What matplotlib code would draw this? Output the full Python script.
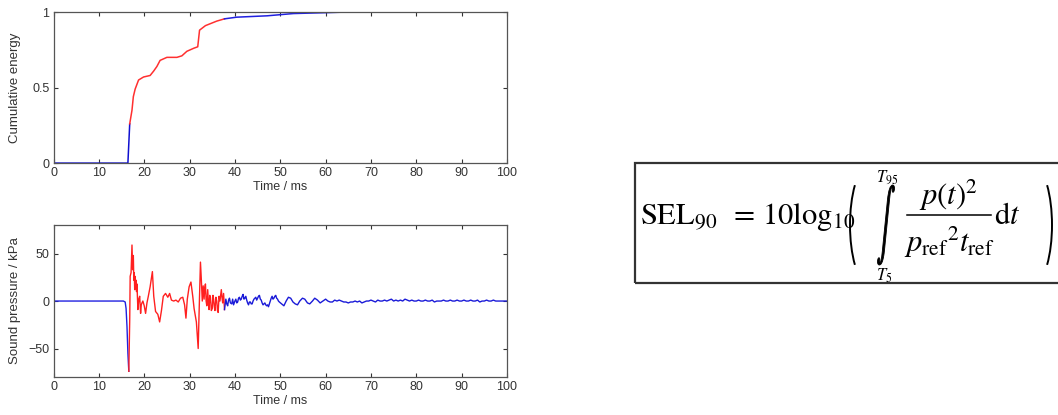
import numpy as np
import matplotlib
matplotlib.use('Agg')
import matplotlib.pyplot as plt
from matplotlib.patches import Rectangle, Arc, PathPatch
from matplotlib.lines import Line2D
from matplotlib.transforms import IdentityTransform, Affine2D
from matplotlib.textpath import TextPath
from matplotlib.font_manager import FontProperties

plt.rcParams['font.family'] = ['Liberation Sans', 'DejaVu Sans']
plt.rcParams['mathtext.fontset'] = 'stix'

# ---- data ----
# analysis window (start / end of the 90 % energy interval), ms
t5 = 16.6
t95 = 37.7

# cumulative (normalised) energy
t_energy = [0.0, 16.4, 16.8, 17.3, 17.6, 18.0, 18.75, 19.85, 21.3, 22.1, 22.8,
            23.5, 25.0, 27.2, 28.3, 29.4, 30.9, 31.8, 32.2, 33.5, 36.0, 37.7,
            40.4, 47.1, 52.9, 60.3, 64.7]
energy = [0.0, 0.0, 0.26, 0.35, 0.44, 0.49, 0.55, 0.57, 0.58, 0.61, 0.64,
          0.68, 0.70, 0.70, 0.71, 0.74, 0.76, 0.77, 0.88, 0.91, 0.94, 0.955,
          0.966, 0.975, 0.99, 0.996, 1.0]

# sound pressure trace, kPa
t_press = [0.0, 15.4, 15.8, 16.0, 16.2, 16.4, 16.6,
           16.8, 16.9, 17.1, 17.3, 17.45, 17.6, 17.7, 17.8, 17.9, 18.0, 18.1,
           18.2, 18.3, 18.4, 18.6, 18.8, 19.0, 19.2, 19.35, 19.5, 19.7, 20.0,
           20.3, 20.6, 20.9, 21.3, 21.8, 22.1, 22.5, 23.0, 23.4, 23.8, 24.2,
           24.7, 25.2, 25.6, 26.0, 26.5, 27.0, 27.5, 28.0, 28.5, 28.9, 29.2,
           29.5, 29.9, 30.3, 30.7, 31.0, 31.5, 31.9, 32.1, 32.4, 32.6, 32.8,
           33.0, 33.2, 33.35, 33.5, 33.65, 33.8, 34.0, 34.15, 34.3, 34.45,
           34.6, 34.8, 35.0, 35.15, 35.3, 35.45, 35.6, 35.8, 36.0, 36.15,
           36.3, 36.5, 36.7, 37.0, 37.15, 37.3, 37.5, 37.7,
           38.0, 38.2, 38.4, 38.6, 38.8, 39.0, 39.3, 39.5, 39.7, 40.0, 40.2,
           40.4, 40.6, 40.8, 41.0, 41.2, 41.4, 41.6, 41.8, 42.0, 42.2, 42.4,
           42.6, 42.8, 43.0, 43.2, 43.4, 43.6, 43.8, 44.0, 44.2, 44.4, 44.6,
           44.8, 45.0, 45.2, 45.4, 45.6, 45.8, 46.0, 46.2, 46.4, 46.6, 46.8,
           47.0, 47.2, 47.4, 47.6, 47.8, 48.0, 48.2, 48.4, 48.6, 48.8, 49.0,
           49.2, 49.4, 49.6, 49.8, 50.3, 50.8, 51.3, 51.8, 52.3, 52.8, 53.3,
           53.8, 54.3, 54.9, 55.4, 56.0, 56.5, 57.1, 57.6, 58.2, 58.8, 59.4,
           60.0, 60.5, 61.0, 61.5, 62.0, 62.5, 63.0, 63.5, 64.0, 64.5, 65.0,
           65.5, 66.0, 66.5, 67.0, 67.5, 68.0, 68.5, 69.0, 69.5, 70.0, 70.5,
           71.0, 71.5, 72.0, 72.5, 73.0, 73.5, 74.0, 74.5, 75.0, 75.5, 76.0,
           76.5, 77.0, 77.5, 78.0, 78.5, 79.0, 79.5, 80.0, 80.5, 81.0, 81.5,
           82.0, 82.5, 83.0, 83.5, 84.0, 84.5, 85.0, 85.5, 86.0, 86.5, 87.0,
           87.5, 88.0, 88.5, 89.0, 89.5, 90.0, 90.5, 91.0, 91.5, 92.0, 92.5,
           93.0, 93.5, 94.0, 94.5, 95.0, 95.5, 96.0, 96.5, 97.0, 97.5, 98.0,
           98.5, 99.0, 99.5, 100.0]
pressure = [0, 0, -1, -8, -27, -55, -74,
            -20, 26, 30, 59, 33, 48, 22, 30, 12, 26, 14,
            22, 10, 18, -9, 2, 5, -13, -4, -2, 0, -5,
            -13, -2, 5, 15, 31, 5, -11, -14, -22, -10, 5,
            8, 4, 8, 1, 0, 1, -1, 3, 4, -4, -18,
            2, 15, 20, 5, -8, -22, -50, -12, 41, 22, 0,
            16, 2, 14, 18, 0, -5, 12, -2, -9, 6,
            4, -10, -8, 6, 2, -6, -10, 4, 0, -10,
            -12, 5, 0, 12, 4, -2, 8, -9,
            2, -3, -5, 1, 3, -2, -3, 2, -4, 0, 2,
            -2, -1, 3, 4, 1, 2, 5, 7, 2, 3, 5,
            1, -2, -4, -1, -1, -3, -3, 0, 2, 3, 4,
            1, 3, 5, 6, 2, 1, -2, -4, -3, -2, -4,
            -5, -4, -6, -3, 0, 3, 5, 2, 3, 5, 6,
            3, 2, 0, -1, -3, -5, 0, 4, 3, -1, -3,
            -4, 0, 3, 2, -2, -3, 0, 3, 1, -2, 0,
            2, 0, -1, -1, 1, 0, 1, 0, -1, -1, -2,
            -1, -1, 0, -1, 0, -2, -1, 0, 0, 1, 0,
            -1, 1, 0, 0, 1, 0, 1, 2, 0, 1, 0,
            1, 0, 2, 1, 0, 1, 0, 0, 1, 0, 0,
            1, 0, 0, 1, -1, 0, 0, 0, 1, 0, 0,
            1, 0, 0, 1, 0, 0, 1, 0, 0, 1, 0,
            0, 1, -1, 0, 0, 1, 0, 0, 1, 0, 0,
            0, 0, 0, 0]

x_ticks = list(range(0, 101, 10))
energy_ticks = [0, 0.5, 1]
energy_ticklabels = ['0', '0.5', '1']
press_ticks = [-50, 0, 50]

W, H = 1058, 415


def split_window(t, y):
    # blue before T5, red inside [T5, T95], blue after T95
    t = np.asarray(t, dtype=float)
    y = np.asarray(y, dtype=float)
    i5 = int(np.searchsorted(t, t5))
    i95 = int(np.searchsorted(t, t95))
    return ((t[:i5 + 1], y[:i5 + 1]),
            (t[i5:i95 + 1], y[i5:i95 + 1]),
            (t[i95:], y[i95:]))


def style_axes(ax):
    ax.set_xlim(0, 100)
    ax.set_xticks(x_ticks)
    ax.tick_params(direction='in', top=True, right=True, length=3,
                   width=0.8, labelsize=9, colors='#333333', pad=3)
    for s in ax.spines.values():
        s.set_color('#555555')
        s.set_linewidth(0.9)
    ax.set_xlabel('Time / ms', fontsize=9, color='#333333', labelpad=1)


def ftext(x, y, s, size=22, **kw):
    # place text by pixel position measured from the top-left corner
    fig.text(x / W, 1 - y / H, s, fontsize=size, va=kw.pop('va', 'baseline'),
             color='black', **kw)


fig = plt.figure(figsize=(W / 100, H / 100), dpi=100)

# ---- cumulative energy ----
ax1 = fig.add_axes([0.0506, 0.607, 0.4286, 0.364])
pre, win, post = split_window(t_energy, energy)
ax1.plot(*pre, color='#1010d0', lw=1.1)
ax1.plot(*win, color='#ff3030', lw=1.1)
ax1.plot(*post, color='#2020e0', lw=1.1)
ax1.set_ylim(0, 1)
ax1.set_yticks(energy_ticks)
ax1.set_yticklabels(energy_ticklabels)
ax1.set_ylabel('Cumulative energy', fontsize=9.5, color='#333333', labelpad=8)
style_axes(ax1)

# ---- pressure trace ----
ax2 = fig.add_axes([0.0506, 0.0916, 0.4286, 0.366])
pre, win, post = split_window(t_press, pressure)
ax2.plot(*pre, color='#2020e0', lw=1.0)
ax2.plot(*win, color='#ff2020', lw=1.0)
ax2.plot(*post, color='#1a1ad8', lw=1.0)
ax2.set_ylim(-80, 80)
ax2.set_yticks(press_ticks)
ax2.set_ylabel('Sound pressure / kPa', fontsize=9.5, color='#333333', labelpad=5)
style_axes(ax2)

# ---- SEL90 definition, set piece by piece ----
fig.patches.append(Rectangle((0.600, 0.318), 0.45, 0.289, transform=fig.transFigure,
                             fill=False, edgecolor='#333333', lw=1.6))
ftext(640, 224, r'$\mathrm{SEL}_{90}$')
ftext(729, 224, r'$=\,10\mathrm{log}_{10}$')

# big parentheses (display pixels, origin bottom-left)
fig.patches.append(Arc((871, H - 225), 42, 124, theta1=112, theta2=248,
                       transform=IdentityTransform(), lw=1.4, color='black'))
fig.patches.append(Arc((1031, H - 225), 42, 124, theta1=-68, theta2=68,
                       transform=IdentityTransform(), lw=1.4, color='black'))

# tall, thin integral sign: glyph outline squeezed horizontally
glyph = TextPath((0, 0), '\u222b', size=40, prop=FontProperties(family='STIXGeneral'))
ext = glyph.get_extents()
sx, sy = 17 / ext.width, 80 / ext.height
to_place = (Affine2D().translate(-ext.x0 - ext.width / 2, -ext.y0 - ext.height / 2)
            .scale(sx, sy).translate(886, H - 225))
fig.patches.append(PathPatch(to_place.transform_path(glyph), transform=IdentityTransform(),
                             facecolor='black', edgecolor='black', lw=0.6))
ftext(876, 182, r'$T_{95}$', size=12)
ftext(876, 281, r'$T_{5}$', size=12)

# fraction
ftext(949, 205, r'$p(t)^2$', ha='center')
fig.add_artist(Line2D([907 / W, 991 / W], [1 - 215 / H, 1 - 215 / H],
                      transform=fig.transFigure, color='black', lw=1.1))
ftext(949, 252, r'${p_{\mathrm{ref}}}^{2}t_{\mathrm{ref}}$', ha='center')
ftext(994, 224, r'$\mathrm{d}t$')

fig.savefig('out.png', dpi=100)
